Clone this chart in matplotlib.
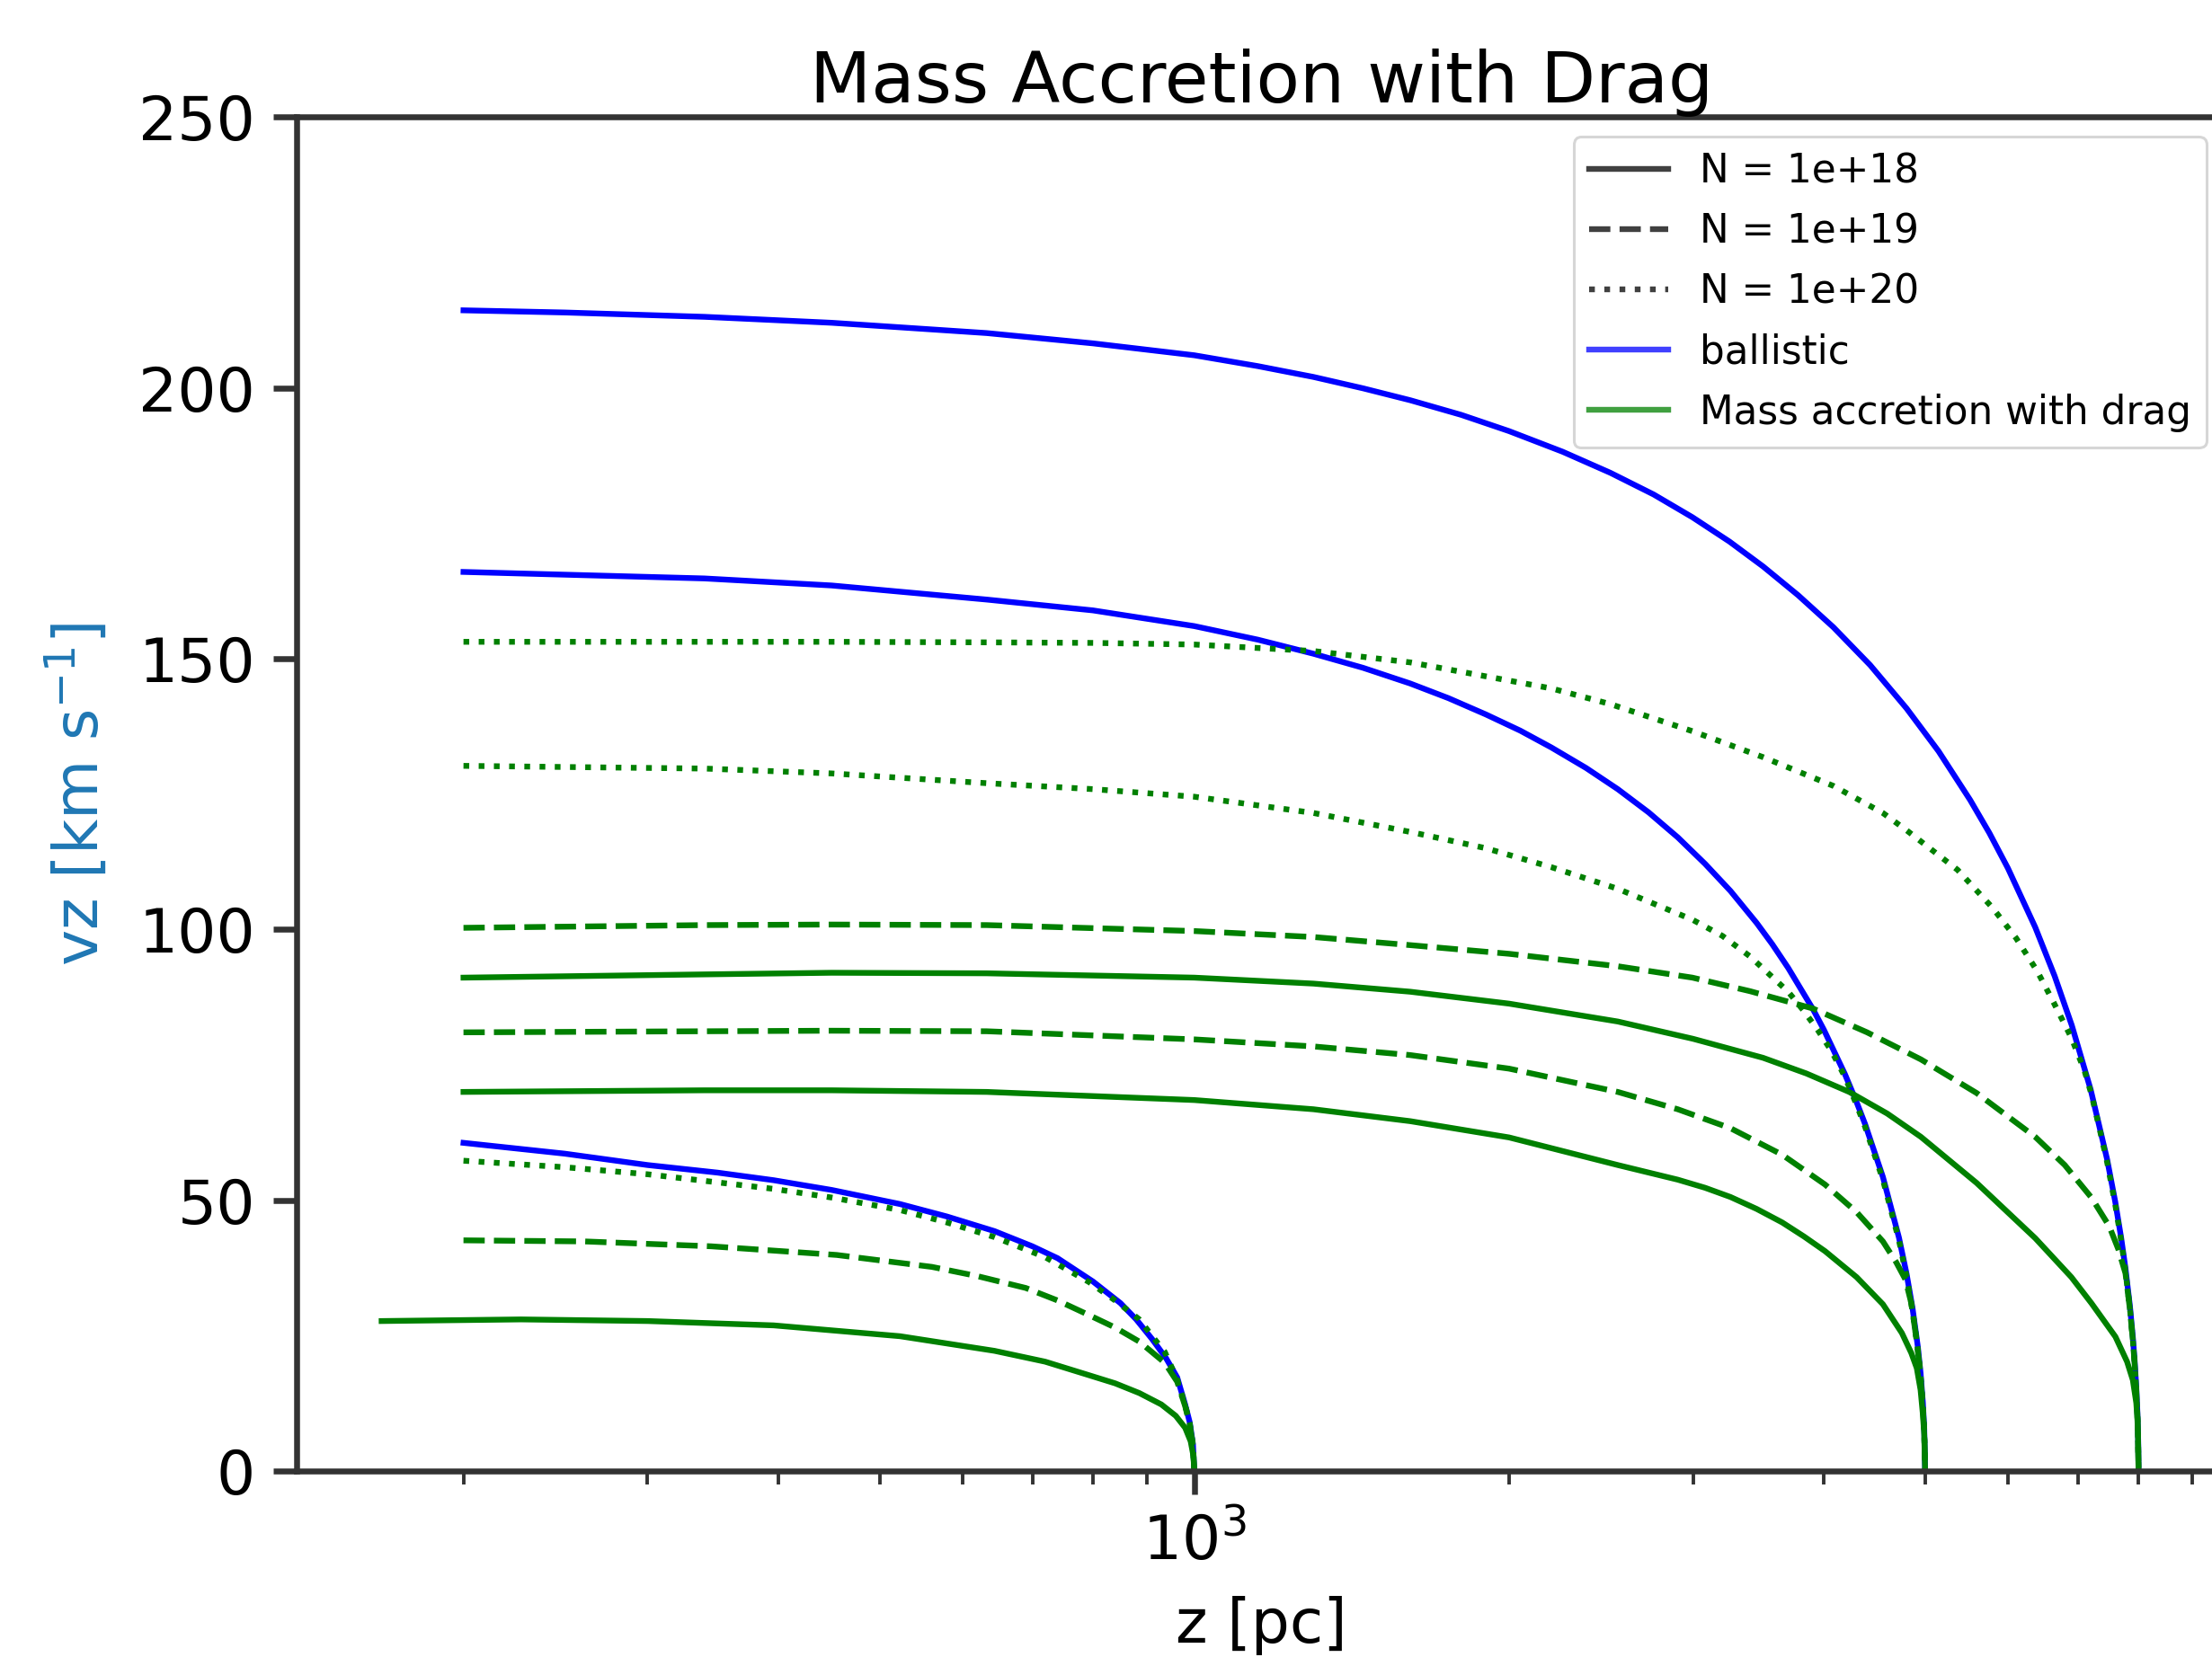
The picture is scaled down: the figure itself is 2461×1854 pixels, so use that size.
#!/usr/bin/env python3
import matplotlib
matplotlib.use("Agg")
import matplotlib.pyplot as plt
from matplotlib.lines import Line2D

# z [pc] and vz [km/s], one group per apex height
# group reaching 1 kpc
z_bal_1 = [200, 250, 300, 350, 396, 450, 523, 580, 644, 700, 740, 800, 850, 880, 911, 940, 963, 980, 990, 997, 1000]
v_bal_1 = [60.6, 58.6, 56.5, 55.1, 53.7, 51.9, 49.3, 47.0, 44.3, 41.5, 39.3, 35.0, 31.0, 28.0, 24.4, 20.8, 17.3, 12.3, 9.0, 5.0, 0]
z_n20_1 = [200, 250, 300, 396, 450, 523, 580, 644, 720, 793, 840, 886, 915, 937, 963, 980, 990, 997, 1000]
v_n20_1 = [57.3, 56.1, 54.8, 52.1, 50.5, 48.2, 45.9, 43.2, 39.5, 34.9, 31.5, 28.0, 24.5, 22.0, 16.9, 12.2, 8.8, 4.8, 0]
z_n19_1 = [200, 261, 345, 455, 561, 620, 690, 740, 793, 840, 886, 937, 963, 980, 990, 997, 1000]
v_n19_1 = [42.6, 42.4, 41.5, 39.9, 37.7, 36.0, 33.8, 31.5, 28.8, 26.5, 23.9, 20.0, 16.5, 12.0, 8.6, 4.7, 0]
z_n18_1 = [167, 227, 300, 396, 523, 644, 720, 793, 840, 886, 930, 960, 980, 992, 998, 1000]
v_n18_1 = [27.7, 28.0, 27.7, 26.9, 24.9, 22.2, 20.2, 17.7, 16.2, 14.4, 12.3, 10.2, 8.0, 5.5, 2.8, 0]

# group reaching 5 kpc
z_bal_2 = [200, 340, 450, 633, 800, 1000, 1150, 1300, 1450, 1609, 1750, 1900, 2050, 2195, 2370, 2541,
           2720, 2900, 3080, 3257, 3450, 3570, 3698, 3905, 4000, 4190, 4300, 4380, 4556, 4720, 4800,
           4863, 4920, 4950, 4975, 4990, 5000]
v_bal_2 = [166.0, 164.8, 163.5, 160.9, 158.9, 156.0, 153.5, 150.9, 148.3, 145.4, 142.7, 139.7, 136.7, 133.6, 129.8, 125.9,
           121.6, 117.0, 112.1, 107.1, 101.2, 97.3, 92.9, 85.3, 81.5, 73.3, 68.1, 64.1, 54.3, 43.1, 36.4,
           30.1, 23.0, 18.1, 12.7, 7.9, 0]
z_n20_2 = [200, 340, 450, 633, 800, 1000, 1300, 1609, 1900, 2195, 2541, 2995, 3200, 3401, 3698, 3830,
           3951, 4070, 4190, 4300, 4380, 4556, 4720, 4800, 4863, 4920, 4950, 4975, 4990, 5000]
v_n20_2 = [130.2, 129.7, 128.8, 127.0, 125.9, 124.5, 121.5, 118.0, 115.0, 111.5, 107.5, 101.8, 98.8, 95.0, 88.5, 84.9,
           81.3, 77.5, 72.8, 67.6, 63.6, 53.8, 42.6, 35.9, 29.6, 22.5, 17.6, 12.2, 7.4, 0]
z_n19_2 = [200, 340, 450, 633, 1000, 1300, 1609, 2000, 2541, 2900, 3257, 3650, 4011, 4300, 4556, 4690,
           4787, 4850, 4900, 4940, 4970, 4990, 5000]
v_n19_2 = [81.0, 81.2, 81.3, 81.2, 79.7, 78.4, 76.8, 74.3, 70.0, 66.8, 63.3, 58.4, 52.9, 47.8, 42.4, 38.6,
           35.4, 31.0, 25.0, 19.4, 13.0, 7.6, 0]
z_n18_2 = [200, 340, 450, 633, 1000, 1300, 1609, 2000, 2541, 2900, 3080, 3257, 3450, 3650, 3830, 4011,
           4300, 4556, 4750, 4850, 4909, 4950, 4975, 4990, 5000]
v_n18_2 = [70.0, 70.3, 70.3, 70.0, 68.5, 66.8, 64.6, 61.6, 56.5, 53.8, 52.3, 50.6, 48.4, 45.9, 43.3, 40.6,
           35.8, 30.8, 25.5, 21.8, 19.0, 15.0, 10.5, 6.8, 0]

# group reaching 8 kpc
z_bal_3 = [200, 250, 340, 450, 633, 800, 1000, 1150, 1300, 1450, 1609, 1800, 2000, 2250, 2500, 2750,
           2995, 3250, 3500, 3780, 4085, 4430, 4800, 5150, 5521, 5760, 6000, 6372, 6650, 6906, 7200,
           7464, 7600, 7700, 7773, 7850, 7900, 7930, 7960, 7980, 7990, 7995, 8000]
v_bal_3 = [214.3, 213.9, 213.1, 212.0, 210.1, 208.2, 206.0, 204.0, 202.0, 199.9, 197.7, 195.0, 192.0, 188.2, 184.3, 180.3,
           176.1, 171.6, 167.0, 161.7, 155.8, 148.8, 140.8, 132.9, 123.9, 117.8, 111.3, 100.4, 91.4, 82.3, 70.4,
           57.6, 49.7, 43.0, 37.4, 30.4, 24.7, 20.6, 15.5, 10.8, 7.3, 4.9, 0]
z_n20_3 = [200, 340, 450, 633, 800, 1000, 1300, 1609, 2195, 2500, 2995, 3500, 4085, 4556, 4800, 5370,
           5800, 6109, 6400, 6636, 6900, 7100, 7211, 7350, 7464, 7600, 7700, 7773, 7850, 7900, 7930, 7960,
           7980, 7990, 8000]
v_n20_3 = [153.1, 153.1, 153.1, 153.0, 152.9, 152.6, 151.4, 149.3, 144.5, 141.6, 136.6, 131.8, 126.5, 121.5, 118.3, 111.0,
           104.0, 98.4, 92.3, 86.5, 80.0, 74.0, 69.6, 62.8, 57.1, 49.2, 42.5, 36.9, 29.9, 24.2, 20.1, 15.0,
           10.3, 6.8, 0]
z_n19_3 = [200, 340, 450, 633, 1000, 1300, 1609, 2000, 2541, 2995, 3400, 3905, 4400, 4954, 5600, 6372,
           6800, 7211, 7500, 7650, 7773, 7850, 7900, 7930, 7960, 7980, 7990, 8000]
v_n19_3 = [100.3, 100.8, 100.9, 100.8, 99.7, 98.6, 97.1, 95.5, 93.2, 91.1, 88.6, 85.4, 81.0, 76.0, 69.8, 61.7,
           56.5, 50.5, 45.2, 41.0, 36.5, 29.8, 24.2, 20.0, 15.0, 10.3, 6.8, 0]
z_n18_3 = [200, 340, 450, 633, 1000, 1300, 1609, 2000, 2541, 3000, 3499, 3850, 4230, 4600, 4954, 5600,
           6372, 6900, 7211, 7603, 7800, 7900, 7960, 7980, 7990, 8000]
v_n18_3 = [91.1, 91.7, 92.0, 91.9, 91.1, 90.0, 88.5, 86.3, 83.0, 79.8, 76.3, 73.4, 70.0, 66.0, 61.7, 53.2,
           43.0, 35.8, 31.0, 24.8, 20.2, 16.8, 12.6, 9.6, 6.5, 0]

column_labels = ["N = 1e+18", "N = 1e+19", "N = 1e+20"]
model_labels = ["ballistic", "Mass accretion with drag"]


def main():
    fig = plt.figure(figsize=(24.61, 18.54), dpi=100)
    ax = fig.add_axes([0.1341, 0.1170, 0.8724, 0.8128])

    lw = 4.6
    ballistic = [(z_bal_1, v_bal_1), (z_bal_2, v_bal_2), (z_bal_3, v_bal_3)]
    for z, v in ballistic:
        ax.plot(z, v, color="blue", lw=lw)

    drag = [
        (z_n18_1, v_n18_1, "-"), (z_n19_1, v_n19_1, "--"), (z_n20_1, v_n20_1, ":"),
        (z_n18_2, v_n18_2, "-"), (z_n19_2, v_n19_2, "--"), (z_n20_2, v_n20_2, ":"),
        (z_n18_3, v_n18_3, "-"), (z_n19_3, v_n19_3, "--"), (z_n20_3, v_n20_3, ":"),
    ]
    for z, v, ls in drag:
        ax.plot(z, v, color="green", ls=ls, lw=lw)

    ax.set_xscale("log")
    ax.set_xlim(138.5, 9707)
    ax.set_ylim(0, 250)
    ax.set_yticks([0, 50, 100, 150, 200, 250])

    edge = "#333333"
    for s in ax.spines.values():
        s.set_linewidth(4.7)
        s.set_color(edge)
    ax.tick_params(which="major", length=19, width=4.7, color=edge,
                   labelsize=49, pad=14)
    ax.tick_params(which="minor", length=11, width=2.8, color=edge)

    ax.set_xlabel("z [pc]", fontsize=49, labelpad=19)
    ax.set_ylabel(r"vz [km s$^{-1}$]", fontsize=49, color="#1f77b4", labelpad=22)
    ax.set_title("Mass Accretion with Drag", fontsize=57, pad=2)

    handles = [
        Line2D([], [], color="k", ls="-", lw=lw, alpha=0.75),
        Line2D([], [], color="k", ls="--", lw=lw, alpha=0.75),
        Line2D([], [], color="k", ls=":", lw=lw, alpha=0.75),
        Line2D([], [], color="blue", ls="-", lw=lw, alpha=0.75),
        Line2D([], [], color="green", ls="-", lw=lw, alpha=0.75),
    ]
    leg = ax.legend(handles, column_labels + model_labels, loc="upper right",
                    fontsize=31.5, labelspacing=0.55)
    leg.get_frame().set_linewidth(2.2)

    fig.savefig("out.png", dpi=100)
    plt.close(fig)


if __name__ == "__main__":
    main()
